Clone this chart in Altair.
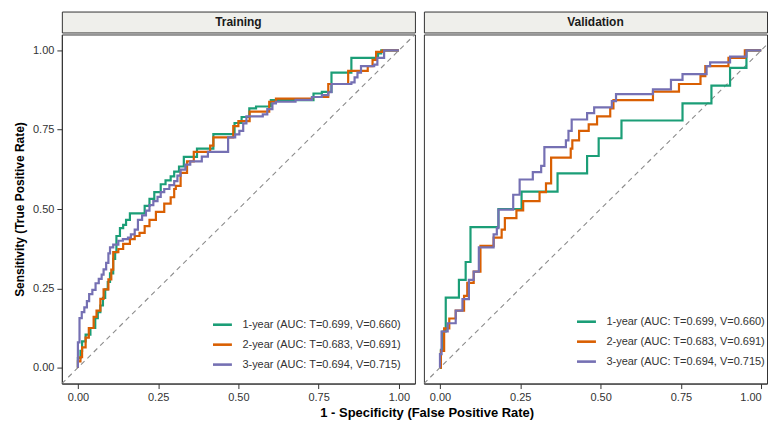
import altair as alt
import pandas as pd

FONT = "Liberation Sans"

panels = ["Training", "Validation"]
models = [
    "1-year (AUC: T=0.699, V=0.660)",
    "2-year (AUC: T=0.683, V=0.691)",
    "3-year (AUC: T=0.694, V=0.715)",
]
colors = ["#1b9e77", "#d95f02", "#7570b3"]
ticks = [0.0, 0.25, 0.5, 0.75, 1.0]

# Training curves (step points: fpr where rise happens, tpr after rise)
train_1y_fpr = [0.000, 0.000, 0.008, 0.013, 0.024, 0.039, 0.054, 0.062, 0.070, 0.078, 0.085, 0.093,
                0.100, 0.110, 0.116, 0.120, 0.131, 0.141, 0.150, 0.162, 0.208, 0.223, 0.238, 0.258,
                0.273, 0.289, 0.300, 0.315, 0.330, 0.371, 0.422, 0.488, 0.510, 0.534, 0.555, 0.601,
                0.734, 0.760, 0.790, 0.852, 0.935, 0.945, 1.000]
train_1y_tpr = [0.000, 0.030, 0.053, 0.083, 0.104, 0.125, 0.156, 0.175, 0.196, 0.220, 0.247, 0.270,
                0.297, 0.343, 0.364, 0.415, 0.440, 0.450, 0.466, 0.486, 0.510, 0.532, 0.553, 0.578,
                0.590, 0.603, 0.618, 0.634, 0.664, 0.690, 0.736, 0.771, 0.790, 0.817, 0.823, 0.843,
                0.864, 0.869, 0.930, 0.976, 0.990, 1.000, 1.000]

train_2y_fpr = [0.000, 0.000, 0.008, 0.013, 0.024, 0.034, 0.049, 0.058, 0.070, 0.080, 0.095, 0.104,
                0.110, 0.126, 0.141, 0.162, 0.177, 0.192, 0.208, 0.223, 0.243, 0.269, 0.289, 0.300,
                0.305, 0.320, 0.340, 0.361, 0.412, 0.422, 0.484, 0.500, 0.535, 0.596, 0.617, 0.730,
                0.780, 0.842, 0.903, 0.918, 0.929, 0.949, 1.000]
train_2y_tpr = [0.000, 0.020, 0.033, 0.064, 0.095, 0.125, 0.160, 0.180, 0.217, 0.247, 0.278, 0.309,
                0.364, 0.374, 0.390, 0.405, 0.415, 0.425, 0.446, 0.466, 0.491, 0.517, 0.537, 0.563,
                0.573, 0.614, 0.650, 0.680, 0.700, 0.726, 0.761, 0.777, 0.807, 0.838, 0.848, 0.853,
                0.894, 0.935, 0.950, 0.970, 0.995, 1.000, 1.000]

train_3y_fpr = [0.000, 0.000, 0.005, 0.012, 0.020, 0.028, 0.035, 0.045, 0.055, 0.065, 0.074, 0.080,
                0.088, 0.095, 0.100, 0.110, 0.126, 0.140, 0.156, 0.165, 0.177, 0.187, 0.200, 0.212,
                0.223, 0.235, 0.248, 0.258, 0.269, 0.285, 0.300, 0.310, 0.320, 0.335, 0.350, 0.386,
                0.405, 0.468, 0.490, 0.503, 0.515, 0.525, 0.576, 0.590, 0.606, 0.617, 0.678, 0.729,
                0.760, 0.780, 0.790, 0.852, 0.862, 0.871, 0.882, 0.923, 0.933, 0.954, 0.954, 1.000]
train_3y_tpr = [0.000, 0.080, 0.156, 0.175, 0.190, 0.210, 0.232, 0.245, 0.266, 0.280, 0.293, 0.310,
                0.330, 0.360, 0.379, 0.388, 0.400, 0.405, 0.410, 0.420, 0.435, 0.466, 0.480, 0.495,
                0.512, 0.525, 0.538, 0.553, 0.563, 0.575, 0.588, 0.605, 0.624, 0.640, 0.650, 0.665,
                0.680, 0.726, 0.735, 0.746, 0.770, 0.792, 0.798, 0.815, 0.833, 0.838, 0.844, 0.853,
                0.859, 0.868, 0.894, 0.899, 0.915, 0.930, 0.950, 0.955, 0.976, 0.986, 1.000, 1.000]

# Validation curves
valid_1y_fpr = [0.000, 0.003, 0.008, 0.018, 0.059, 0.080, 0.095, 0.182, 0.254, 0.366, 0.458, 0.494,
                0.565, 0.755, 0.845, 0.903, 0.954, 1.000]
valid_1y_tpr = [0.000, 0.056, 0.114, 0.221, 0.277, 0.333, 0.443, 0.500, 0.555, 0.612, 0.667, 0.723,
                0.779, 0.833, 0.889, 0.945, 1.000, 1.000]

valid_2y_fpr = [0.000, 0.003, 0.013, 0.029, 0.049, 0.075, 0.085, 0.105, 0.126, 0.167, 0.192, 0.202,
                0.238, 0.259, 0.310, 0.330, 0.346, 0.407, 0.412, 0.433, 0.463, 0.489, 0.530, 0.540,
                0.663, 0.744, 0.811, 0.826, 0.898, 0.949, 1.000]
valid_2y_tpr = [0.000, 0.053, 0.124, 0.155, 0.180, 0.226, 0.267, 0.303, 0.384, 0.410, 0.435, 0.471,
                0.496, 0.525, 0.553, 0.581, 0.662, 0.690, 0.716, 0.746, 0.767, 0.792, 0.817, 0.843,
                0.870, 0.894, 0.919, 0.950, 0.976, 1.000, 1.000]

valid_3y_fpr = [0.000, 0.000, 0.005, 0.024, 0.049, 0.070, 0.090, 0.105, 0.121, 0.167, 0.177, 0.182,
                0.228, 0.248, 0.289, 0.315, 0.325, 0.392, 0.400, 0.410, 0.458, 0.480, 0.535, 0.548,
                0.663, 0.719, 0.755, 0.830, 0.841, 0.903, 0.954, 1.000]
valid_3y_tpr = [0.000, 0.043, 0.114, 0.140, 0.180, 0.216, 0.277, 0.303, 0.379, 0.420, 0.440, 0.498,
                0.545, 0.593, 0.616, 0.636, 0.695, 0.716, 0.746, 0.782, 0.802, 0.820, 0.840, 0.862,
                0.877, 0.907, 0.925, 0.950, 0.962, 0.980, 1.000, 1.000]

diag_range = [-0.05, 1.05]
right_x_domain = [-0.05, 1.018]   # right panel is cropped at the picture edge

curves = {
    "Training": [(train_1y_fpr, train_1y_tpr), (train_2y_fpr, train_2y_tpr), (train_3y_fpr, train_3y_tpr)],
    "Validation": [(valid_1y_fpr, valid_1y_tpr), (valid_2y_fpr, valid_2y_tpr), (valid_3y_fpr, valid_3y_tpr)],
}

rows = []
for p in panels:
    for m, (f, t) in zip(models, curves[p]):
        for i, (fx, ty) in enumerate(zip(f, t)):
            rows.append({"panel": p, "model": m, "step": i, "fpr": fx, "tpr": ty})
df = pd.DataFrame(rows)
diag_df = pd.DataFrame({"x": diag_range, "y": diag_range})

yscale = alt.Scale(domain=diag_range, nice=False, zero=False)
H = 350
YTITLE = "Sensitivity (True Positive Rate)"


def panel(name, show_y, width, xdomain, legend_x, legend_y):
    d = df[df["panel"] == name]
    xscale = alt.Scale(domain=xdomain, nice=False, zero=False)
    xaxis = alt.Axis(values=ticks, format=".2f", title=None, grid=False, labelFlush=6)
    yaxis = alt.Axis(values=ticks, format=".2f", title=YTITLE, grid=False) if show_y else None
    diag = alt.Chart(diag_df).mark_line(strokeDash=[5, 4], color="#8c8c8c", strokeWidth=1.1, clip=True).encode(
        x=alt.X("x:Q", scale=xscale, axis=xaxis),
        y=alt.Y("y:Q", scale=yscale, axis=yaxis),
    )
    lines = alt.Chart(d).mark_line(interpolate="step-after", strokeWidth=2.2, clip=True).encode(
        x=alt.X("fpr:Q", scale=xscale, axis=xaxis),
        y=alt.Y("tpr:Q", scale=yscale, axis=yaxis),
        color=alt.Color("model:N", scale=alt.Scale(domain=models, range=colors),
                        legend=alt.Legend(title=None, orient="none", legendX=legend_x, legendY=legend_y,
                                          symbolType="stroke", symbolStrokeWidth=2.6, symbolSize=360,
                                          labelFontSize=11, labelColor="#333333", labelFont=FONT,
                                          rowPadding=3, labelLimit=400, padding=0, labelOffset=9)),
        order="step:Q",
    )
    plot = alt.layer(diag, lines).properties(width=width, height=H)
    strip = alt.Chart(pd.DataFrame({"panel": [name]})).mark_text(
        fontWeight="bold", fontSize=12, font=FONT, color="#1a1a1a"
    ).encode(text="panel:N").properties(
        width=width, height=21,
        view=alt.ViewBackground(fill="#EFEFEB", stroke="#333333", strokeWidth=1),
    )
    return alt.vconcat(strip, plot, spacing=0).resolve_legend(color="independent")


chart = alt.hconcat(
    panel("Training", True, 354, diag_range, 150, 280),
    panel("Validation", False, 344, right_x_domain, 152, 277),
    spacing=7,
).resolve_legend(
    color="independent"
).properties(
    title=alt.TitleParams("1 - Specificity (False Positive Rate)", orient="bottom", anchor="middle",
                          fontSize=13, fontWeight="bold", font=FONT, color="#000000", offset=4, dx=37),
    padding={"left": 5, "top": 2, "right": 1, "bottom": 0},
).configure(font=FONT).configure_view(
    stroke="#333333", strokeWidth=1
).configure_axis(
    labelFont=FONT, labelFontSize=11, labelColor="#333333", tickColor="#333333", domainColor="#333333",
    tickSize=5, labelPadding=3, titleFont=FONT, titleFontSize=12, titleFontWeight="bold",
    titleColor="#000000", titlePadding=6,
)

chart.save("out.html", embed_options={"renderer": "svg", "actions": False})
